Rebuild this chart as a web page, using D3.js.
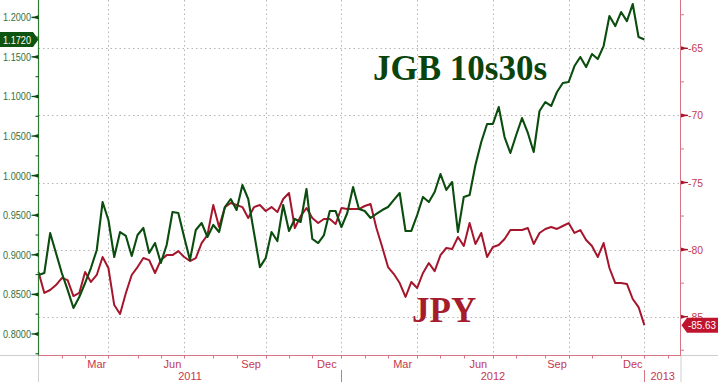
<!DOCTYPE html>
<html><head><meta charset="utf-8">
<script src="https://cdn.jsdelivr.net/npm/d3@7/dist/d3.min.js"></script>
<style>
html,body{margin:0;padding:0;background:#fff;}
svg{display:block;}
.ax{font-family:"Liberation Sans",Arial,sans-serif;font-size:11px;}
</style></head>
<body><svg id="c" width="718" height="382"></svg>
<script>
// ---- data ----
const startWeek = new Date(Date.UTC(2011, 0, 7));
const endWeek = new Date(Date.UTC(2013, 0, 5));
const weeks = d3.utcFriday.range(startWeek, endWeek); // weekly observations (Fridays)
const jgb10s30s = [
 0.8745,0.877,0.9275,0.9023,0.877,0.8556,0.8328,0.8467,0.8644,0.8833,
 0.9061,0.9667,0.944,0.8972,0.9288,0.9238,0.8985,0.925,0.9339,0.9023,
 0.9149,0.8897,0.9124,0.9541,0.9528,0.9225,0.8934,0.9313,0.9402,0.9225,
 0.9377,0.9288,0.9604,0.9705,0.9566,0.9882,0.9705,0.9275,0.8845,0.8959,
 0.9288,0.9174,0.9629,0.9301,0.9453,0.9415,0.9832,0.92,0.9149,0.925,
 0.9553,0.9553,0.935,0.9528,0.9857,0.9579,0.9553,0.9465,0.9516,0.9566,
 0.9604,0.9693,0.9781,0.9301,0.9301,0.9503,0.9731,0.9667,0.9794,1.0021,
 0.9819,0.992,0.9288,0.9731,0.9756,1.0135,1.0425,1.0653,1.0653,1.0867,
 1.0488,1.0286,1.0514,1.0728,1.0539,1.0299,1.0817,1.093,1.088,1.1057,
 1.117,1.1183,1.1385,1.1499,1.1372,1.1536,1.1473,1.1637,1.2016,1.189,
 1.2067,1.1953,1.2168,1.1751,1.172];
const jpy = [
 -81.67,-83.23,-83.01,-82.64,-82.12,-82.27,-83.46,-83.23,-81.67,-82.41,
 -81.89,-80.55,-81.37,-84.13,-84.80,-83.23,-81.89,-81.30,-80.63,-80.78,
 -81.74,-80.78,-80.41,-80.41,-80.11,-80.55,-80.85,-80.63,-79.51,-78.91,
 -76.68,-78.32,-76.83,-76.53,-76.68,-76.83,-77.65,-76.83,-76.68,-77.12,
 -76.83,-77.20,-76.23,-75.78,-78.39,-77.50,-76.90,-77.65,-78.02,-77.72,
 -77.72,-78.09,-76.90,-76.98,-76.98,-76.98,-76.75,-76.60,-78.39,-79.81,
 -81.30,-81.82,-82.49,-83.53,-82.41,-82.86,-81.74,-81.00,-81.60,-80.41,
 -79.88,-79.96,-79.06,-79.73,-78.02,-79.58,-78.76,-80.55,-79.81,-79.66,
 -79.21,-78.54,-78.54,-78.54,-78.39,-79.58,-78.76,-78.46,-78.32,-78.46,
 -78.24,-78.02,-78.76,-78.54,-79.28,-79.73,-80.55,-79.51,-81.37,-82.49,
 -82.49,-82.56,-83.68,-84.28,-85.63];
const leftTicks = [0.80,0.85,0.90,0.95,1.00,1.05,1.10,1.15,1.20];
const leftMinor = [0.775,0.825,0.875,0.925,0.975,1.025,1.075,1.125,1.175];
const rightTicks = [-65,-70,-75,-80,-85];
const rightMinor = [-62.5,-67.5,-72.5,-77.5,-82.5,-87.5];
const monthLabels = ["Mar","Jun","Sep","Dec"];
const seriesNames = ["JGB 10s30s","JPY"];

// ---- layout ----
const X0 = 38.5, X1 = 681, YB = 355.5;
const cGreen = "#0b4d0e", cRed = "#a5162d";
const cAxisR = "#d77483", cLabR = "#c4394f", cLabG = "#36703a";

const x = d3.scaleUtc().domain([startWeek, new Date(Date.UTC(2013,1,17))]).range([X0, X1]);
const yL = d3.scaleLinear().domain([0.7728, 1.2219]).range([YB, 0]);
const yR = d3.scaleLinear().domain([-87.89, -61.40]).range([YB, 0]);

const svg = d3.select("#c");

// month ticks at first observation of each month
const months = d3.utcMonth.range(new Date(Date.UTC(2011,0,1)), new Date(Date.UTC(2013,2,1)));
const monthWeeks = months.map(m => d3.utcFriday.ceil(m));
const quarterWeeks = monthWeeks.filter((w,i) => months[i].getUTCMonth() % 3 === 0 && i > 0 && x(w) < X1);

// grid
const grid = svg.append("g").attr("stroke", "#b5b5b5").attr("stroke-width", 1).attr("stroke-dasharray", "1.5,3");
grid.selectAll("line.h").data(rightTicks).join("line")
  .attr("x1", X0).attr("x2", X1).attr("y1", d => Math.round(yR(d)) + 0.5).attr("y2", d => Math.round(yR(d)) + 0.5);
grid.selectAll("line.v").data(quarterWeeks).join("line")
  .attr("x1", d => Math.round(x(d)) + 0.5).attr("x2", d => Math.round(x(d)) + 0.5).attr("y1", 0).attr("y2", YB);

// grey frame bits
const gf = svg.append("g").attr("stroke", "#cfcfcf").attr("stroke-width", 1);
gf.append("line").attr("x1", 0).attr("x2", X0).attr("y1", YB).attr("y2", YB);
gf.append("line").attr("x1", X1).attr("x2", 718).attr("y1", YB).attr("y2", YB);
gf.append("line").attr("x1", X0).attr("x2", X0).attr("y1", YB).attr("y2", 382);
gf.append("line").attr("x1", X1).attr("x2", X1).attr("y1", YB).attr("y2", 382);

// lines
const lineR = d3.line().x((d,i) => x(weeks[i])).y(d => yR(d));
const lineG = d3.line().x((d,i) => x(weeks[i])).y(d => yL(d));
svg.append("path").datum(jpy).attr("d", lineR).attr("fill", "none").attr("stroke", cRed).attr("stroke-width", 2).attr("stroke-linejoin", "round");
svg.append("path").datum(jgb10s30s).attr("d", lineG).attr("fill", "none").attr("stroke", cGreen).attr("stroke-width", 2.1).attr("stroke-linejoin", "round");

// x axis
const xa = svg.append("g").attr("class", "ax");
xa.append("line").attr("x1", X0).attr("x2", X1).attr("y1", YB).attr("y2", YB).attr("stroke", cAxisR);
xa.selectAll("line.t").data(monthWeeks.filter(w => x(w) > X0 + 1 && x(w) < X1)).join("line")
  .attr("x1", d => Math.round(x(d)) + 0.5).attr("x2", d => Math.round(x(d)) + 0.5)
  .attr("y1", YB).attr("y2", YB + 3).attr("stroke", cAxisR);
const mlab = [];
months.forEach((m, i) => {
  const nm = d3.utcFormat("%b")(m);
  if (monthLabels.includes(nm) && i + 1 < monthWeeks.length) {
    mlab.push({t: nm, x: (x(monthWeeks[i]) + x(monthWeeks[i+1])) / 2});
  }
});
xa.selectAll("text.m").data(mlab).join("text")
  .attr("x", d => d.x).attr("y", 368).attr("text-anchor", "middle").attr("fill", cLabR).text(d => d.t);
const yearStarts = monthWeeks.filter((w,i) => months[i].getUTCMonth() === 0);
const yearLab = yearStarts.map((w,i) => ({t: String(months[0].getUTCFullYear() + i), a: x(w), b: i + 1 < yearStarts.length ? x(yearStarts[i+1]) : X1}));
xa.selectAll("text.y").data(yearLab).join("text")
  .attr("x", d => (d.a + d.b) / 2).attr("y", 380).attr("text-anchor", "middle").attr("fill", cLabR).text(d => d.t);
xa.selectAll("line.ys").data(yearStarts.slice(1)).join("line")
  .attr("x1", d => Math.round(x(d)) + 0.5).attr("x2", d => Math.round(x(d)) + 0.5)
  .attr("y1", 370).attr("y2", 382).attr("stroke", cAxisR);

// left axis
const la = svg.append("g").attr("class", "ax");
la.append("line").attr("x1", X0).attr("x2", X0).attr("y1", 0).attr("y2", YB).attr("stroke", "#2f7a32").attr("stroke-width", 1.2);
la.selectAll("path.t").data(leftTicks).join("path")
  .attr("d", d => { const y = yL(d); return `M${X0},${y-2}L${X0},${y+2}L${X0-4},${y+0.8}L${X0-7},${y+0.6}L${X0-7},${y-0.6}L${X0-4},${y-0.8}Z`; })
  .attr("fill", cGreen);
la.selectAll("line.m").data(leftMinor).join("line")
  .attr("x1", X0 - 3).attr("x2", X0).attr("y1", d => yL(d)).attr("y2", d => yL(d)).attr("stroke", cGreen);
la.selectAll("text").data(leftTicks).join("text")
  .attr("x", 3).attr("y", d => yL(d) + 4).attr("fill", cLabG)
  .attr("textLength", 28).attr("lengthAdjust", "spacingAndGlyphs").text(d => d.toFixed(4));

// right axis
const ra = svg.append("g").attr("class", "ax");
ra.append("line").attr("x1", X1 - 0.5).attr("x2", X1 - 0.5).attr("y1", 0).attr("y2", YB).attr("stroke", cAxisR);
ra.selectAll("path.t").data(rightTicks).join("path")
  .attr("d", d => { const y = yR(d); return `M${X1},${y-2}L${X1},${y+2}L${X1+4},${y+0.8}L${X1+7},${y+0.6}L${X1+7},${y-0.6}L${X1+4},${y-0.8}Z`; })
  .attr("fill", cRed);
ra.selectAll("line.m").data(rightMinor).join("line")
  .attr("x1", X1).attr("x2", X1 + 3).attr("y1", d => yR(d)).attr("y2", d => yR(d)).attr("stroke", cAxisR);
ra.selectAll("text").data(rightTicks).join("text")
  .attr("x", 688).attr("y", d => yR(d) + 4).attr("fill", cLabR)
  .attr("textLength", 15).attr("lengthAdjust", "spacingAndGlyphs").text(d => String(d));

// last value tags
const lastG = jgb10s30s[jgb10s30s.length - 1], lastR = jpy[jpy.length - 1];
const yg = yL(lastG), yr = yR(lastR);
svg.append("path").attr("d", `M0,${yg-7.5}L33,${yg-7.5}L${X0},${yg}L33,${yg+7.5}L0,${yg+7.5}Z`).attr("fill", "#0c5410");
svg.append("text").attr("class", "ax").attr("x", 3).attr("y", yg + 4).attr("fill", "#fff")
  .attr("textLength", 28).attr("lengthAdjust", "spacingAndGlyphs").text(lastG.toFixed(4));
svg.append("path").attr("d", `M718,${yr-7.5}L687,${yr-7.5}L${X1+0.5},${yr}L687,${yr+7.5}L718,${yr+7.5}Z`).attr("fill", "#c0142e");
svg.append("text").attr("class", "ax").attr("x", 688).attr("y", yr + 4).attr("fill", "#fff")
  .attr("textLength", 28).attr("lengthAdjust", "spacingAndGlyphs").text(lastR.toFixed(2));

// series names
svg.append("text").attr("x", 373).attr("y", 80).attr("font-family", "'Liberation Serif','Times New Roman',serif")
  .attr("font-weight", "bold").attr("font-size", 35).attr("fill", "#0a430c").text(seriesNames[0]);
svg.append("text").attr("x", 412).attr("y", 322).attr("font-family", "'Liberation Serif','Times New Roman',serif")
  .attr("font-weight", "bold").attr("font-size", 35).attr("fill", "#a51d2d").text(seriesNames[1]);
</script></body></html>
